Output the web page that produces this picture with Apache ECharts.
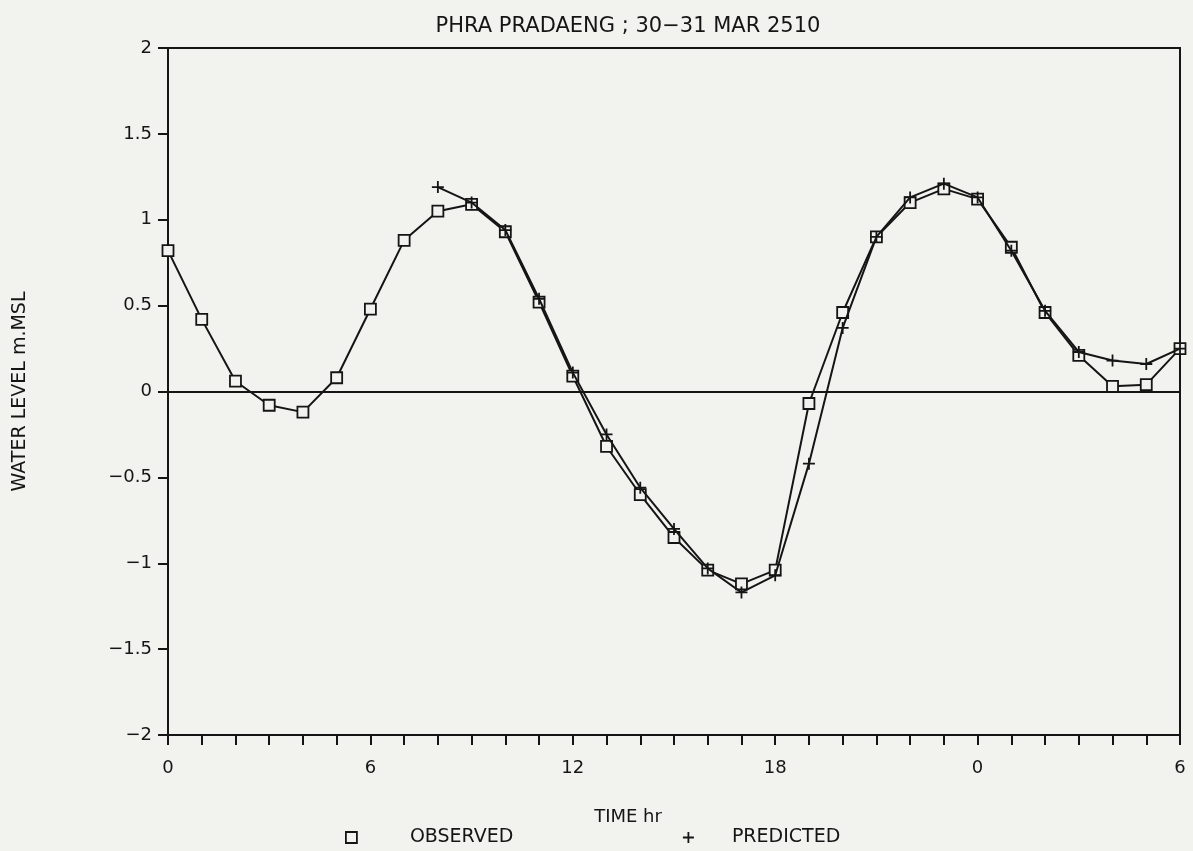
<!DOCTYPE html>
<html><head><meta charset="utf-8">
<script src="https://cdn.jsdelivr.net/npm/echarts@6/dist/echarts.min.js"></script>
<style>html,body{margin:0;padding:0;background:#f2f2ef}#c{width:1193px;height:851px}</style>
</head><body><div id="c"></div>
<script>
// Data
const obsHours = [0,1,2,3,4,5,6,7,8,9,10,11,12,13,14,15,16,17,18,19,20,21,22,23,24,25,26,27,28,29,30];
const observed = [0.82,0.42,0.06,-0.08,-0.12,0.08,0.48,0.88,1.05,1.09,0.93,0.52,0.09,-0.32,-0.60,-0.85,-1.04,-1.12,-1.04,-0.07,0.46,0.90,1.10,1.18,1.12,0.84,0.46,0.21,0.03,0.04,0.25];
const predHours = [8,9,10,11,12,13,14,15,16,17,18,19,20,21,22,23,24,25,26,27,28,29,30];
const predicted = [1.19,1.10,0.94,0.54,0.11,-0.25,-0.56,-0.80,-1.03,-1.17,-1.07,-0.42,0.37,0.90,1.13,1.21,1.13,0.82,0.47,0.23,0.18,0.16,0.25];
const xTickHours = [0,6,12,18,24,30];
const xTickLabels = ['0','6','12','18','0','6'];

const FONT = "'DejaVu Sans', Verdana, sans-serif";
const ink = '#151515';
const bg = '#f2f2ef';
const plusPath = 'path://M0,5L10,5M5,0L5,10';

const chart = echarts.init(document.getElementById('c'), null, {renderer:'canvas'});
chart.setOption({
  backgroundColor: bg,
  animation: false,
  grid: {left:168, right:13, top:48, bottom:116, show:true, borderColor:ink, borderWidth:2,
         backgroundColor:'transparent', containLabel:false, outerBoundsMode:'none'},
  graphic: [{
    type:'text', x:628, y:16,
    style:{text:'PHRA PRADAENG ; 30\u221231 MAR 2510', fill:ink, font:"21px "+FONT, textAlign:'center'}
  }],
  legend: [
    {
      left:340, top:823, itemWidth:11, itemHeight:11,
      textStyle:{color:ink, fontFamily:FONT, fontSize:19, padding:[0,0,0,48]},
      data:[{name:'OBSERVED', icon:'rect', itemStyle:{color:'transparent', borderColor:ink, borderWidth:1.8}}]
    },
    {
      left:677, top:823, itemWidth:11, itemHeight:11,
      textStyle:{color:ink, fontFamily:FONT, fontSize:19, padding:[0,0,0,33]},
      data:[{name:'PREDICTED', icon:plusPath, itemStyle:{color:'transparent', borderColor:ink, borderWidth:1.8}}]
    }
  ],
  xAxis: {
    type:'value', min:0, max:30, interval:1,
    name:'TIME hr', nameLocation:'middle', nameGap:73,
    nameTextStyle:{color:ink, fontFamily:FONT, fontSize:18, padding:[0,92,0,0]},
    axisLine:{show:true, onZero:false, lineStyle:{color:ink, width:2}},
    axisTick:{show:true, length:10, lineStyle:{color:ink, width:2}},
    axisLabel:{color:ink, fontFamily:FONT, fontSize:18, margin:24,
      formatter: v => { const i = xTickHours.indexOf(v); return i >= 0 ? xTickLabels[i] : ''; }},
    splitLine:{show:false}
  },
  yAxis: {
    type:'value', min:-2, max:2, interval:0.5,
    name:'WATER LEVEL m.MSL', nameLocation:'middle', nameGap:138, nameRotate:90,
    nameTextStyle:{color:ink, fontFamily:FONT, fontSize:19},
    axisLine:{show:true, onZero:false, lineStyle:{color:ink, width:2}},
    axisTick:{show:true, length:10, lineStyle:{color:ink, width:2}},
    axisLabel:{color:ink, fontFamily:FONT, fontSize:18, margin:16,
      formatter: v => String(v).replace('-', '\u2212')},
    splitLine:{show:false}
  },
  series: [
    {
      name:'OBSERVED', type:'line',
      data: obsHours.map((h,i)=>[h, observed[i]]),
      symbol:'rect', symbolSize:11, showAllSymbol:true,
      lineStyle:{color:ink, width:2},
      itemStyle:{color:bg, borderColor:ink, borderWidth:1.8},
      z:3,
      markLine:{silent:true, symbol:'none', label:{show:false},
        lineStyle:{color:ink, width:2, type:'solid'}, data:[{yAxis:0}]}
    },
    {
      name:'PREDICTED', type:'line',
      data: predHours.map((h,i)=>[h, predicted[i]]),
      symbol:plusPath, symbolSize:12, showAllSymbol:true,
      lineStyle:{color:ink, width:2},
      itemStyle:{color:'transparent', borderColor:ink, borderWidth:1.8},
      z:4
    }
  ]
});
</script></body></html>
